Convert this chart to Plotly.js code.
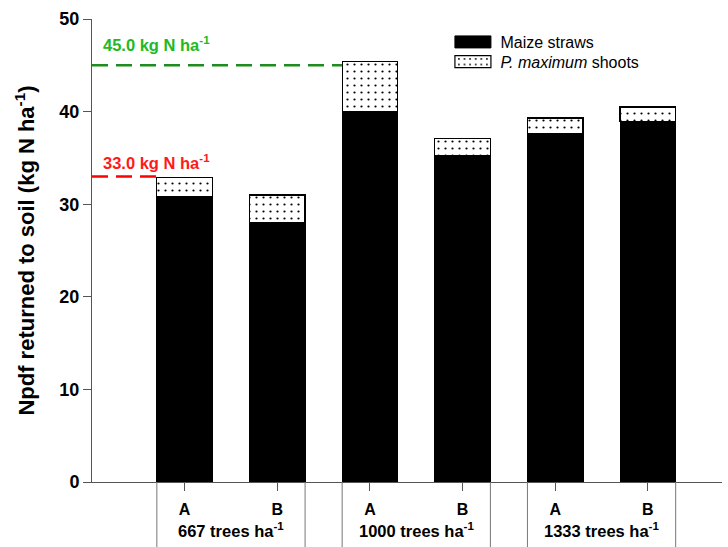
<!DOCTYPE html>
<html>
<head>
<meta charset="utf-8">
<script src="https://cdn.plot.ly/plotly-3.0.1.min.js"></script>
<style>html,body{margin:0;padding:0;background:#fff;}#chart{width:728px;height:547px;}</style>
</head>
<body>
<div id="chart"></div>
<script>
const treatments = ["A", "B", "A", "B", "A", "B"];
const positions = [0, 1, 2, 3, 4, 5];
const groups = ["667 trees ha<sup>-1</sup>", "1000 trees ha<sup>-1</sup>", "1333 trees ha<sup>-1</sup>"];
const groupCenters = [0.5, 2.5, 4.5];
const maizeStraws = [30.8, 28.0, 40.0, 35.3, 37.6, 38.9];
const pMaximumShoots = [2.1, 3.0, 5.4, 1.8, 1.7, 1.6];
const refValues = [45.0, 33.0];
const refLabels = ["45.0 kg N ha<sup>-1</sup>", "33.0 kg N ha<sup>-1</sup>"];
const refEnds = [2, 0];

const FONT = "Liberation Sans, Arial, sans-serif";
const barW = 0.6;

const traces = [
  {
    type: "bar", x: positions, y: maizeStraws, name: "Maize straws", width: barW,
    marker: {color: "#000", line: {color: "#000", width: 1}},
    hoverinfo: "skip"
  },
  {
    type: "bar", x: positions, y: pMaximumShoots, name: "<i>P. maximum</i> shoots", width: barW,
    marker: {color: "#fff", line: {color: "#000", width: 1.2},
      pattern: {shape: ".", fgcolor: "#000", bgcolor: "#fff", size: 7, solidity: 0.08}},
    hoverinfo: "skip"
  }
];

const refColorsLine = ["#1e8c1e", "#ff0000"];
const refColorsText = ["#22b922", "#ff1a1a"];
const refShift = [9, 2];

const shapes = [];
const annotations = [];
refValues.forEach((v, i) => {
  shapes.push({type: "line", xref: "x", yref: "y", x0: -1, x1: refEnds[i] - barW / 2, y0: v, y1: v,
    line: {color: refColorsLine[i], width: 2.5, dash: "16px,8px"}});
  annotations.push({xref: "x", yref: "y", x: -1, y: v, xanchor: "left", yanchor: "bottom",
    xshift: 9, yshift: refShift[i], showarrow: false, text: "<b>" + refLabels[i] + "</b>",
    font: {family: FONT, size: 16.5, color: refColorsText[i]}});
});
// group separators
positions.forEach((p, i) => {
  if (i % 2 === 0) {
    [p - barW / 2, p + 1 + barW / 2].forEach(xx => {
      shapes.push({type: "line", xref: "x", yref: "paper", x0: xx, x1: xx, y0: 0, y1: -0.15,
        line: {color: "#777", width: 1}});
    });
  }
});
groups.forEach((g, i) => {
  annotations.push({xref: "x", yref: "paper", x: groupCenters[i], y: 0, yanchor: "middle",
    yshift: -48, showarrow: false, text: "<b>" + g + "</b>",
    font: {family: FONT, size: 16.5, color: "#000"}});
});

const layout = {
  width: 728, height: 547,
  margin: {l: 92, r: 6, t: 19, b: 65},
  paper_bgcolor: "#fff", plot_bgcolor: "#fff",
  barmode: "stack",
  showlegend: true,
  legend: {x: 0.561, y: 0.987, xanchor: "left", yanchor: "top", bgcolor: "rgba(0,0,0,0)",
    font: {family: FONT, size: 16, color: "#000"}, traceorder: "normal", itemwidth: 45,
    tracegroupgap: 0},
  xaxis: {range: [-1, 5.8], tickvals: positions, ticktext: treatments.map(t => "<b>" + t + "</b>"),
    showline: true, linecolor: "#555", linewidth: 1, ticks: "outside", ticklen: 8, tickcolor: "#555",
    ticklabelstandoff: 5,
    showgrid: false, zeroline: false, tickfont: {family: FONT, size: 16, color: "#000"}, fixedrange: true},
  yaxis: {range: [0, 50], dtick: 10, showline: true, linecolor: "#555", linewidth: 1,
    ticks: "outside", ticklen: 8, tickcolor: "#555", showgrid: false, zeroline: false,
    tickfont: {family: FONT, size: 18, color: "#000"}, tickprefix: "<b>", ticksuffix: "</b>",
    title: {text: "<b>Npdf returned to soil (kg N ha<sup>-1</sup>)</b>", font: {family: FONT, size: 22, color: "#000"}, standoff: 18},
    fixedrange: true},
  shapes: shapes,
  annotations: annotations
};

Plotly.newPlot("chart", traces, layout, {displayModeBar: false, staticPlot: true}).then(gd => {
  document.querySelectorAll(".legend .legendpoints path").forEach(p => {
    p.setAttribute("d", "M18,6H-18V-6H18Z");
  });
  // tighten legend row spacing
  const items = document.querySelectorAll(".legend .traces");
  items.forEach((el, i) => {
    const t = el.getAttribute("transform") || "";
    const m = t.match(/translate\(\s*([-\d.]+)[ ,]+([-\d.]+)\s*\)/);
    if (m) {
      el.setAttribute("transform", "translate(" + m[1] + "," + (parseFloat(m[2]) - 4 * i) + ")");
    }
  });
});
</script>
</body>
</html>
